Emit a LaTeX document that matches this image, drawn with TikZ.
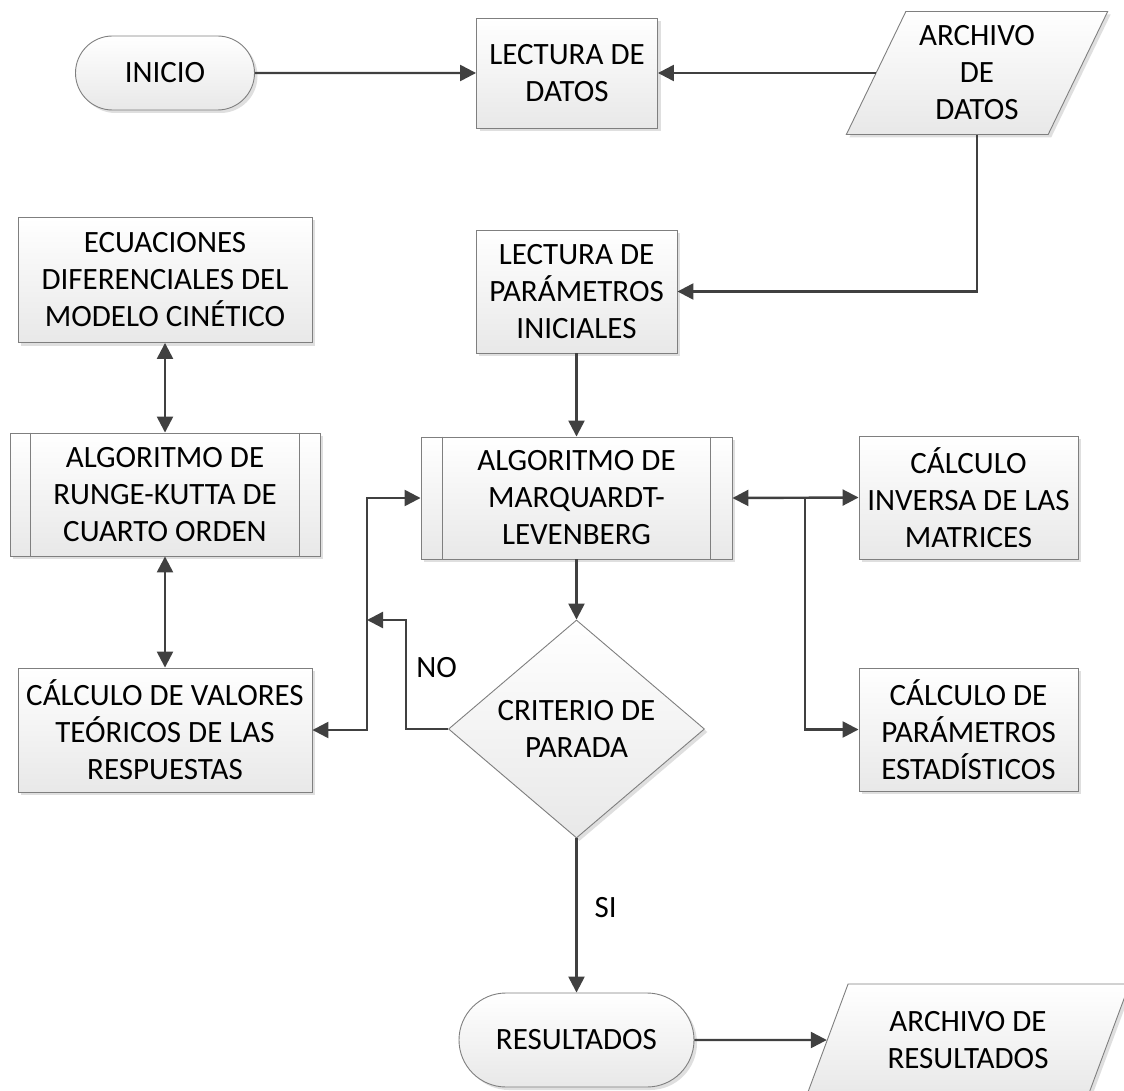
\documentclass[tikz,border=0pt]{standalone}
\usepackage{fontspec}
\setmainfont{Carlito}
\usetikzlibrary{shapes.geometric,shapes.misc,shadows,arrows.meta}

\definecolor{linegray}{HTML}{404040}
\definecolor{edgegray}{HTML}{7F7F7F}

\tikzset{
  base/.style={draw=edgegray, line width=0.9pt, top color=white, bottom color=black!9,
    drop shadow={shadow xshift=3pt, shadow yshift=-3pt, fill=black!25, opacity=.5},
    align=center, inner sep=2pt, font=\fontsize{31pt}{37pt}\selectfont},
  proc/.style={base, rectangle},
  term/.style={base, rounded rectangle},
  io/.style={base, trapezium, trapezium left angle=63, trapezium right angle=117,
    trapezium stretches=true},
  dec/.style={base, diamond, inner sep=0pt, aspect=1.17},
  arr/.style={draw=linegray, line width=2.4pt, -{Triangle[length=16pt,width=16pt]}},
  dbl/.style={arr, {Triangle[length=16pt,width=16pt]}-{Triangle[length=16pt,width=16pt]}},
  lbl/.style={inner sep=0pt, font=\fontsize{31pt}{37pt}\selectfont}
}

\begin{document}
\begin{tikzpicture}[x=1pt, y=-1pt]
  \useasboundingbox (0,0) rectangle (1124,1091);

  % nodes
  \node[term, minimum width=183pt, minimum height=74pt] (ini) at (165,73) {INICIO};
  \node[proc, minimum width=181pt, minimum height=110pt] (ldat) at (567,73) {LECTURA DE\\DATOS};
  \node[io, minimum width=262pt, minimum height=123pt] (arch) at (977,73) {ARCHIVO\\DE\\DATOS};
  \node[proc, minimum width=294pt, minimum height=125pt] (ecu) at (165,280) {ECUACIONES\\DIFERENCIALES DEL\\MODELO CIN\'ETICO};
  \node[proc, minimum width=201pt, minimum height=123pt] (lpar) at (576.5,291.5) {LECTURA DE\\PAR\'AMETROS\\INICIALES};
  \node[proc, minimum width=310pt, minimum height=123pt] (rk) at (165,494.5) {ALGORITMO DE\\RUNGE-KUTTA DE\\CUARTO ORDEN};
  \node[proc, minimum width=311pt, minimum height=122pt] (marq) at (576.5,498) {ALGORITMO DE\\MARQUARDT-\\LEVENBERG};
  \node[proc, minimum width=219pt, minimum height=123pt] (inv) at (968.5,497.5) {C\'ALCULO\\INVERSA DE LAS\\MATRICES};
  \node[proc, minimum width=294pt, minimum height=124pt] (calc) at (165,730) {C\'ALCULO DE VALORES\\TE\'ORICOS DE LAS\\RESPUESTAS};
  \node[dec, minimum width=256pt, minimum height=218pt] (crit) at (576.5,729) {CRITERIO DE\\PARADA};
  \node[proc, minimum width=219pt, minimum height=123pt] (est) at (968.5,729.5) {C\'ALCULO DE\\PAR\'AMETROS\\ESTAD\'ISTICOS};
  \node[term, minimum width=239pt, minimum height=94pt] (res) at (576.5,1040) {RESULTADOS};
  \node[io, trapezium left angle=65, trapezium right angle=115,
    minimum width=324pt, minimum height=112pt] (ares) at (968,1040) {ARCHIVO DE\\RESULTADOS};

  % sub-process bars
  \foreach \n/\d in {rk/21, marq/22}
    \draw[edgegray, line width=0.9pt] ([xshift=\d pt]\n.north west) -- ([xshift=\d pt]\n.south west)
      ([xshift=-\d pt]\n.north east) -- ([xshift=-\d pt]\n.south east);

  \coordinate (loop) at (367,620);
  \coordinate (br) at (805,498);

  % connectors
  \draw[arr] (ini) -- (ldat);
  \draw[arr] (arch.west) -- (arch.west -| ldat.east);
  \draw[arr] (arch.south) |- (lpar.east);
  \draw[arr] (lpar) -- (marq);
  \draw[arr] (marq) -- (crit);
  \draw[dbl] (ecu) -- (rk);
  \draw[dbl] (rk) -- (calc);
  \draw[dbl] (marq.west) -| (loop) |- (calc.east);
  \draw[arr] (crit.west) -- ++(-42,0) |- node[lbl, pos=.28, anchor=west, xshift=9pt] {NO} (loop);
  \draw[dbl] (marq.east) -- (inv.west);
  \draw[arr] (br) |- (est.west);
  \draw[arr] (crit) -- node[lbl, pos=.45, anchor=west, xshift=17pt] {SI} (res);
  \draw[arr] (res) -- (ares);
\end{tikzpicture}
\end{document}
